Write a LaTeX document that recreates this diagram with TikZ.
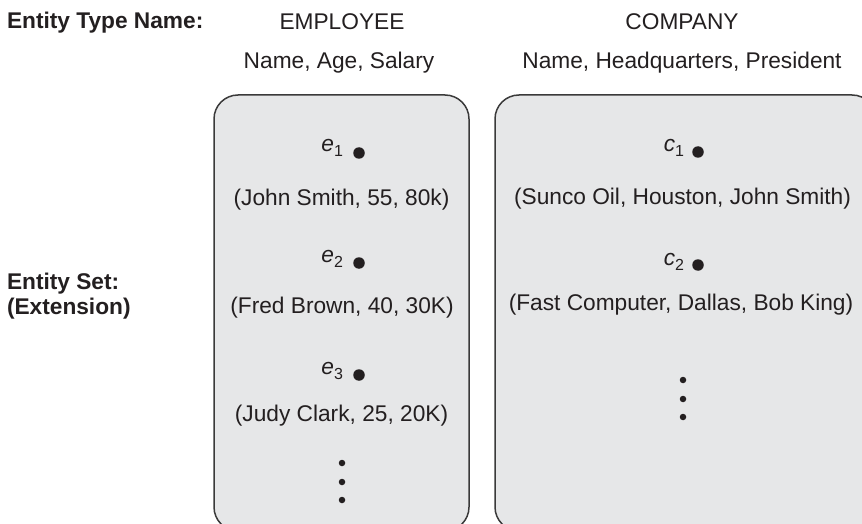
\documentclass[tikz,border=0pt]{standalone}
\usepackage{fontspec}
\setmainfont{Liberation Sans}
\definecolor{txt}{HTML}{231F20}
\definecolor{boxfill}{HTML}{E6E7E8}
\definecolor{boxline}{HTML}{3A3A3A}
\newcommand\entlab[2]{\textit{#1}\raisebox{-5pt}{\fontsize{16}{16}\selectfont #2}}
\begin{document}
\begin{tikzpicture}[x=1pt,y=-1pt,
  every node/.style={font=\fontsize{22.7}{27}\selectfont, text=txt, inner sep=0pt, outer sep=0pt},
  setbox/.style={draw=boxline, fill=boxfill, line width=1.5pt, rounded corners=24pt, rectangle},
  bigdot/.style={circle, fill=txt, minimum size=11.5pt},
  smalldot/.style={circle, fill=txt, minimum size=6.5pt},
  lab/.style={anchor=base west, font=\fontsize{22.7}{27}\selectfont\bfseries}]
\useasboundingbox (0,0) rectangle (862,524);
\clip (0,0) rectangle (862,524);
% boxes
\node[setbox, minimum width=255pt, minimum height=436pt] (empbox) at (341.5,313) {};
\node[setbox, minimum width=381pt, minimum height=436pt] (compbox) at (685.5,313) {};
% left labels
\node[lab] (tnlab) at (7,29) {Entity Type Name:};
\node[lab] (eslab) at (7,289) {Entity Set:};
\node[lab] (exlab) at (7,314) {(Extension)};
% headers
\node[anchor=base] (emp) at (342,30) {EMPLOYEE};
\node[anchor=base] (comp) at (682,30) {COMPANY};
\node[anchor=base] (empattr) at (339,69) {Name, Age, Salary};
\node[anchor=base] (compattr) at (682,69) {Name, Headquarters, President};
% employee entities
\node[anchor=base east] (e1) at (343,152) {\entlab{e}{1}};
\node[bigdot] (e1d) at (359,153) {};
\node[anchor=base] (e1v) at (341.5,205) {(John Smith, 55, 80k)};
\node[anchor=base east] (e2) at (343,262) {\entlab{e}{2}};
\node[bigdot] (e2d) at (359,263) {};
\node[anchor=base] (e2v) at (342,313) {(Fred Brown, 40, 30K)};
\node[anchor=base east] (e3) at (343,374) {\entlab{e}{3}};
\node[bigdot] (e3d) at (359,375) {};
\node[anchor=base] (e3v) at (341.5,421) {(Judy Clark, 25, 20K)};
\node[smalldot] (ed1) at (342,463) {};
\node[smalldot] (ed2) at (342,482) {};
\node[smalldot] (ed3) at (342,500) {};
% company entities
\node[anchor=base east] (c1) at (684,152) {\entlab{c}{1}};
\node[bigdot] (c1d) at (698,152) {};
\node[anchor=base] (c1v) at (682.5,204) {(Sunco Oil, Houston, John Smith)};
\node[anchor=base east] (c2) at (684,265) {\entlab{c}{2}};
\node[bigdot] (c2d) at (698,265) {};
\node[anchor=base] (c2v) at (681,310) {(Fast Computer, Dallas, Bob King)};
\node[smalldot] (cd1) at (683,380) {};
\node[smalldot] (cd2) at (683,399) {};
\node[smalldot] (cd3) at (683,417) {};
\end{tikzpicture}
\end{document}
